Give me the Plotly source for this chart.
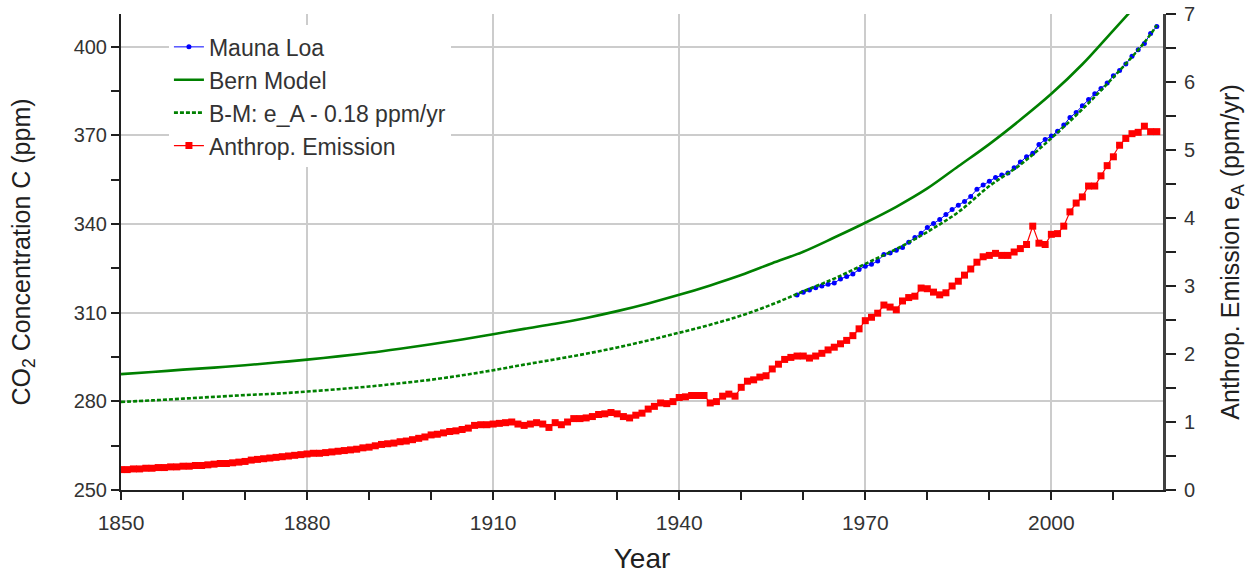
import plotly.graph_objects as go

# ---------------- data ----------------
ml_years = list(range(1959, 2018))
ml_ppm = [315.97, 316.91, 317.64, 318.45, 318.99, 319.62, 320.04, 321.37, 322.18, 323.05,
          324.62, 325.68, 326.32, 327.46, 329.68, 330.19, 331.12, 332.03, 333.84, 335.41,
          336.84, 338.76, 340.12, 341.48, 343.15, 344.85, 346.35, 347.61, 349.31, 351.69,
          353.20, 354.45, 355.70, 356.54, 357.21, 358.96, 360.97, 362.74, 363.88, 366.84,
          368.54, 369.71, 371.32, 373.45, 375.98, 377.70, 379.98, 382.09, 384.02, 385.83,
          387.64, 390.10, 391.85, 394.06, 396.74, 398.87, 401.01, 404.41, 406.76]

model_years = [1850, 1855, 1860, 1865, 1870, 1875, 1880, 1885, 1890, 1895, 1900, 1905,
               1910, 1915, 1920, 1925, 1930, 1935, 1940, 1945, 1950, 1955, 1960, 1965,
               1970, 1975, 1980, 1985, 1990, 1995, 2000, 2005, 2010, 2015]
bern_ppm = [289.2, 289.9, 290.7, 291.4, 292.2, 293.1, 294.1, 295.2, 296.4, 297.8, 299.3, 300.9,
            302.7, 304.5, 306.2, 308.2, 310.5, 313.1, 316.0, 319.2, 322.7, 326.7, 330.6, 335.4,
            340.4, 345.8, 352.0, 359.5, 367.0, 375.2, 384.0, 394.0, 405.5, 417.0]

bm_years = [1850, 1855, 1860, 1865, 1870, 1875, 1880, 1885, 1890, 1895, 1900, 1905,
            1910, 1915, 1920, 1925, 1930, 1935, 1940, 1945, 1950, 1955, 1960, 1965,
            1970, 1975, 1980, 1985, 1990, 1995, 2000, 2005, 2010, 2015, 2017]
bm_ppm = [279.8, 280.3, 280.9, 281.5, 282.1, 282.6, 283.3, 284.1, 285.0, 286.1, 287.3, 288.8,
          290.5, 292.4, 294.2, 296.1, 298.2, 300.6, 303.2, 305.9, 309.0, 312.8, 317.2, 321.5,
          326.5, 331.5, 337.3, 344.0, 352.8, 360.0, 369.0, 378.8, 389.6, 401.4, 407.2]

em_years = list(range(1850, 2018))
em_ppm_yr = [
    0.30, 0.30, 0.31, 0.31, 0.32, 0.32, 0.33, 0.33, 0.34, 0.34,
    0.35, 0.35, 0.36, 0.36, 0.37, 0.38, 0.39, 0.39, 0.40, 0.41,
    0.42, 0.44, 0.45, 0.46, 0.47, 0.48, 0.49, 0.50, 0.51, 0.52,
    0.53, 0.54, 0.54, 0.55, 0.56, 0.57, 0.58, 0.59, 0.60, 0.62,
    0.63, 0.65, 0.67, 0.68, 0.69, 0.71, 0.72, 0.74, 0.76, 0.78,
    0.81, 0.82, 0.84, 0.86, 0.87, 0.89, 0.91, 0.95, 0.96, 0.96,
    0.97, 0.98, 0.99, 1.00, 0.97, 0.95, 0.97, 0.99, 0.97, 0.92,
    0.99, 0.96, 1.00, 1.05, 1.05, 1.06, 1.08, 1.11, 1.12, 1.14,
    1.12, 1.08, 1.06, 1.10, 1.13, 1.19, 1.23, 1.28, 1.27, 1.30,
    1.36, 1.37, 1.39, 1.39, 1.39, 1.28, 1.30, 1.38, 1.41, 1.38,
    1.51, 1.60, 1.62, 1.66, 1.68, 1.78, 1.85, 1.92, 1.95, 1.97,
    1.97, 1.94, 1.97, 2.01, 2.06, 2.10, 2.15, 2.20, 2.27, 2.37,
    2.49, 2.54, 2.60, 2.72, 2.69, 2.65, 2.78, 2.83, 2.85, 2.97,
    2.96, 2.91, 2.87, 2.90, 3.00, 3.07, 3.16, 3.25, 3.35, 3.43,
    3.45, 3.48, 3.45, 3.45, 3.50, 3.55, 3.61, 3.88, 3.63, 3.61,
    3.76, 3.77, 3.88, 4.09, 4.22, 4.31, 4.47, 4.47, 4.62, 4.77,
    4.90, 5.07, 5.17, 5.24, 5.26, 5.35, 5.27, 5.27]

x_range = [1850, 2018]
left_range = [250, 411]
right_range = [0, 7]

FONT = "Liberation Sans"
TXT = "#333333"
GREEN = "#008000"

fig = go.Figure()

fig.add_trace(go.Scatter(
    x=ml_years, y=ml_ppm, name="Mauna Loa", mode="lines+markers",
    line=dict(color="#0000ff", width=1), marker=dict(color="#0000ff", size=5),
    legendgroup="a"))
fig.add_trace(go.Scatter(
    x=model_years, y=bern_ppm, name="Bern Model", mode="lines",
    line=dict(color=GREEN, width=2.6, shape="spline"), legendgroup="b"))
fig.add_trace(go.Scatter(
    x=bm_years, y=bm_ppm, name="B-M: e_A - 0.18 ppm/yr", mode="lines",
    line=dict(color=GREEN, width=2.6, dash="4px,2px", shape="spline"), legendgroup="c"))
fig.add_trace(go.Scatter(
    x=em_years, y=em_ppm_yr, name="Anthrop. Emission", mode="lines+markers",
    line=dict(color="#ff0000", width=1.2), marker=dict(color="#ff0000", size=7, symbol="square"),
    yaxis="y2", legendgroup="d"))

fig.update_layout(
    width=1253, height=574,
    margin=dict(l=121, r=90, t=14, b=84),
    paper_bgcolor="white", plot_bgcolor="white",
    font=dict(family=FONT, color=TXT, size=17),
    showlegend=True,
    legend=dict(x=0.046, y=0.976, xanchor="left", yanchor="top",
                bgcolor="white", borderwidth=0, tracegroupgap=0,
                font=dict(family=FONT, size=23, color=TXT)),
    xaxis=dict(
        range=x_range, tick0=1850, dtick=30, ticks="outside", ticklen=8, tickwidth=1.5,
        tickcolor="#202020", showline=True, linecolor="#202020", linewidth=2,
        showgrid=True, gridcolor="#cccccc", gridwidth=1.5, zeroline=False, automargin=False,
        tickfont=dict(family=FONT, size=21, color=TXT), ticklabelstandoff=5,
        minor=dict(dtick=10, tick0=1850, ticks="outside", ticklen=8, tickcolor="#202020", showgrid=False),
        title=dict(text="Year", font=dict(family=FONT, size=28, color="#202020"))),
    yaxis=dict(
        range=left_range, tick0=250, dtick=30, ticks="outside", ticklen=8, tickwidth=1.5,
        tickcolor="#202020", showline=True, linecolor="#202020", linewidth=2,
        showgrid=True, gridcolor="#cccccc", gridwidth=1.5, zeroline=False, automargin="left",
        tickfont=dict(family=FONT, size=20, color=TXT),
        minor=dict(dtick=15, tick0=250, ticks="outside", ticklen=8, tickcolor="#202020", showgrid=False),
        title=dict(text="CO<sub>2</sub> Concentration C (ppm)", standoff=36,
                   font=dict(family=FONT, size=25, color="#202020"))),
    yaxis2=dict(
        range=right_range, overlaying="y", side="right", tick0=0, dtick=1,
        ticks="outside", ticklen=10, tickwidth=1.5, tickcolor="#202020",
        showline=True, linecolor="#404040", linewidth=3, showgrid=False, zeroline=False, automargin="right",
        tickfont=dict(family=FONT, size=20, color=TXT), ticklabelstandoff=4,
        minor=dict(dtick=0.5, tick0=0, ticks="outside", ticklen=10, tickcolor="#202020", showgrid=False),
        title=dict(text="Anthrop. Emission e<sub>A</sub> (ppm/yr)", standoff=28,
                   font=dict(family=FONT, size=25, color="#202020"))),
)

fig.write_html("out.html")
